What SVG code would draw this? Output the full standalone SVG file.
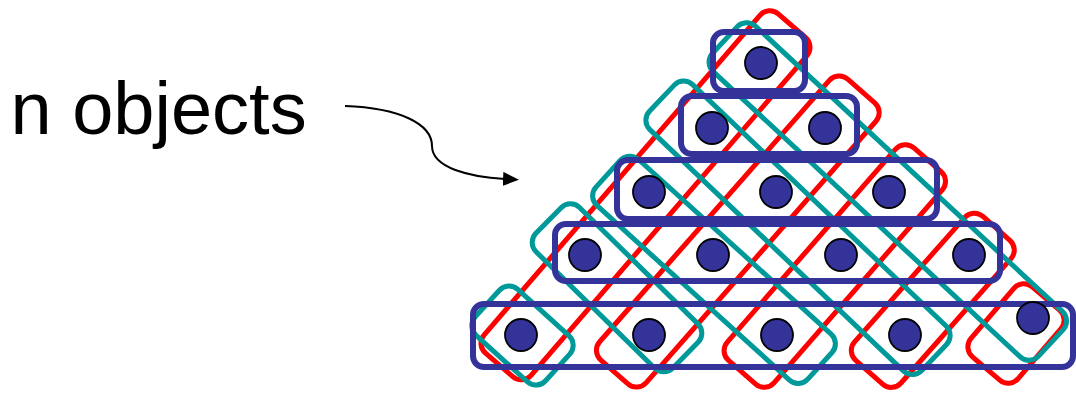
<svg xmlns="http://www.w3.org/2000/svg" width="1076" height="394" viewBox="0 0 1076 394">
<style>
.red{fill:none;stroke:#FF0000;stroke-width:5}
.teal{fill:none;stroke:#009999;stroke-width:5}
.row{fill:none;stroke:#333399;stroke-width:6}
.dot{fill:#333399;stroke:#000;stroke-width:1.8}
.lbl{font-family:"Liberation Sans",Arial,sans-serif;font-size:74px;fill:#000}
.conn{fill:none;stroke:#000;stroke-width:2}
</style>
<defs>
<marker id="ah" viewBox="0 0 16 14" refX="2" refY="7" markerWidth="16" markerHeight="14" markerUnits="userSpaceOnUse" orient="auto">
<path d="M0,0 L16,7 L0,14 Z" fill="#000"/>
</marker>
</defs>
<rect width="1076" height="394" fill="#fff"/>
<g id="label"><text class="lbl" x="10.5" y="134">n objects</text></g>
<g id="connectors">
<path class="conn" d="M345,106 C400,108 432,124 432,146 C432,168 470,177 505,179" marker-end="url(#ah)"/>
</g>
<g id="red-groups">
<g id="red-5"><rect class="red" x="-224" y="-31" width="448" height="62" rx="13" transform="translate(645.5,195.3) rotate(-49.2)"/></g>
<g id="red-4"><rect class="red" x="-187" y="-31" width="374" height="62" rx="13" transform="translate(737.8,231.5) rotate(-48.7)"/></g>
<g id="red-3"><rect class="red" x="-141" y="-31" width="282" height="62" rx="13" transform="translate(834.8,266) rotate(-48.9)"/></g>
<g id="red-2"><rect class="red" x="-96" y="-31" width="192" height="62" rx="13" transform="translate(932.8,300.3) rotate(-48.5)"/></g>
<g id="red-1"><rect class="red" x="-46" y="-31" width="92" height="62" rx="13" transform="translate(1016,333.5) rotate(-49.5)"/></g>
</g>
<g id="teal-groups">
<g id="teal-5"><rect class="teal" x="-222.5" y="-31" width="445" height="62" rx="13" transform="translate(887.8,191.5) rotate(42.9)"/></g>
<g id="teal-4"><rect class="teal" x="-188" y="-31" width="376" height="62" rx="13" transform="translate(798,227.8) rotate(43.6)"/></g>
<g id="teal-3"><rect class="teal" x="-143" y="-31" width="286" height="62" rx="13" transform="translate(714,269.8) rotate(42.2)"/></g>
<g id="teal-2"><rect class="teal" x="-96" y="-31" width="192" height="62" rx="13" transform="translate(617,287.8) rotate(44.5)"/></g>
<g id="teal-1"><rect class="teal" x="-47.5" y="-31" width="95" height="62" rx="13" transform="translate(522.5,335.5) rotate(42.2)"/></g>
</g>
<g id="rows">
<g id="row-1"><rect class="row" x="713" y="32" width="92" height="59" rx="11"/></g>
<g id="row-2"><rect class="row" x="681" y="96" width="176" height="58" rx="11"/></g>
<g id="row-3"><rect class="row" x="617" y="160" width="320" height="59" rx="11"/></g>
<g id="row-4"><rect class="row" x="555" y="224" width="445" height="57" rx="11"/></g>
<g id="row-5"><rect class="row" x="473" y="304" width="600" height="63" rx="11"/></g>
</g>
<g id="objects">
<circle class="dot" cx="761" cy="63" r="16"/>
<circle class="dot" cx="712" cy="128" r="16"/>
<circle class="dot" cx="825" cy="128" r="16"/>
<circle class="dot" cx="649" cy="192" r="16"/>
<circle class="dot" cx="776" cy="192" r="16"/>
<circle class="dot" cx="889" cy="192" r="16"/>
<circle class="dot" cx="585" cy="255" r="16"/>
<circle class="dot" cx="713" cy="255" r="16"/>
<circle class="dot" cx="841" cy="255" r="16"/>
<circle class="dot" cx="969" cy="255" r="16"/>
<circle class="dot" cx="521" cy="335" r="16"/>
<circle class="dot" cx="649" cy="335" r="16"/>
<circle class="dot" cx="777" cy="335" r="16"/>
<circle class="dot" cx="905" cy="335" r="16"/>
<circle class="dot" cx="1033" cy="318" r="16"/>
</g>
</svg>
